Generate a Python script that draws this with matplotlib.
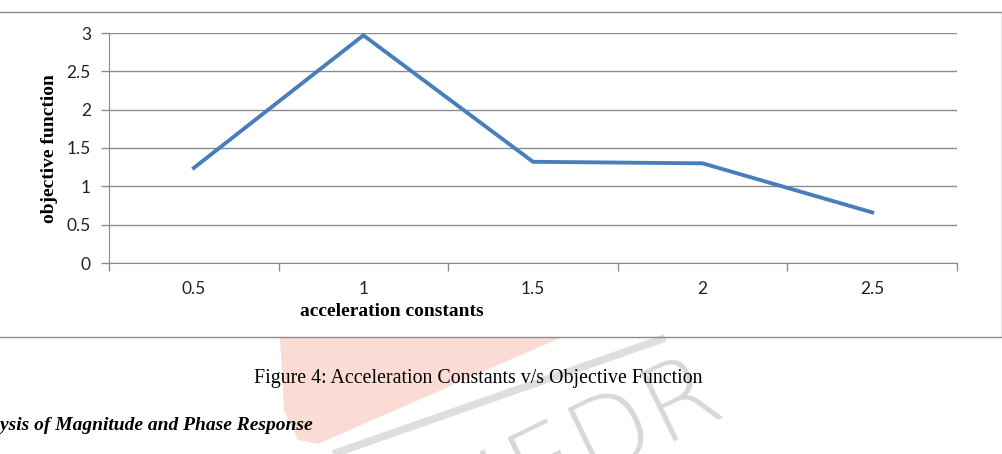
import matplotlib.pyplot as plt
import numpy as np

# data
categories = ['0.5', '1', '1.5', '2', '2.5']
objective = [1.24, 2.97, 1.32, 1.30, 0.66]
y_ticks = [0, 0.5, 1, 1.5, 2, 2.5, 3]
y_labels = ['0', '0.5', '1', '1.5', '2', '2.5', '3']

W, H = 1003, 454
fig = plt.figure(figsize=(W / 100, H / 100), dpi=100)

# background layer in pixel coordinates (page, border box, watermark)
bg = fig.add_axes([0, 0, 1, 1], zorder=0)
bg.set_xlim(0, W)
bg.set_ylim(H, 0)
bg.axis('off')

# faint watermark below the chart box
bg.add_patch(plt.Polygon([(280, 338), (560, 338), (318, 444), (298, 440), (284, 410)],
                         closed=True, color='#fbdcd4', lw=0, zorder=0))
bg.plot([333, 665], [454, 338], color='#dedede', lw=5.5, solid_capstyle='butt', zorder=0.5)
bg.text(588, 445, 'IJEDR', fontsize=76, color='#d8d8d8', rotation=26,
        ha='center', va='center', family='DejaVu Sans', fontweight='light', zorder=0.6)

# chart border (left side runs off the page)
bg.add_patch(plt.Rectangle((-5, 12), 1007, 325, fill=False, ec='#8c8c8c', lw=1.0, zorder=1))

# main plot
ax = fig.add_axes([109 / W, 1 - 263 / H, 848 / W, 230 / H], zorder=2)
ax.patch.set_alpha(0)
x = np.arange(len(categories))
ax.plot(x, objective, color='#4a7ebb', lw=2.8, solid_joinstyle='miter', zorder=3)

ax.set_xlim(-0.5, len(categories) - 0.5)
ax.set_ylim(0, 3)
ax.set_yticks(y_ticks)
ax.set_yticklabels(y_labels)
ax.yaxis.grid(True, color='#8c8c8c', lw=1.0)
ax.set_axisbelow(True)

# category axis: tick marks on boundaries, labels in the middle
ax.set_xticks(np.arange(-0.5, len(categories), 1.0))
ax.set_xticklabels([])
ax.set_xticks(x, minor=True)
ax.set_xticklabels(categories, minor=True)
ax.tick_params(axis='x', which='major', length=6, width=1, color='#8c8c8c', direction='out')
ax.tick_params(axis='x', which='minor', length=0, pad=13)
ax.tick_params(axis='y', length=6, width=1, color='#8c8c8c', pad=7)
for lab in ax.get_xticklabels(minor=True) + ax.get_yticklabels():
    lab.set_family('Lato')
    lab.set_fontsize(12.5)
    lab.set_color('#222222')

for side in ['top', 'right']:
    ax.spines[side].set_visible(False)
ax.spines['left'].set_color('#8c8c8c')
ax.spines['bottom'].set_color('#8c8c8c')

fig.text(392 / W, 1 - 312 / H, 'acceleration constants', ha='center', va='center',
         family='Liberation Serif', fontweight='bold', fontsize=14)
fig.text(50 / W, 1 - 149 / H, 'objective function', ha='center', va='center', rotation=90,
         family='Liberation Serif', fontweight='bold', fontsize=14)

# caption and section heading of the page
fig.text(478 / W, 1 - 378 / H, 'Figure 4: Acceleration Constants v/s Objective Function',
         ha='center', va='center', family='Liberation Serif', fontsize=14.3)
fig.text(313 / W, 1 - 425 / H, 'Analysis of Magnitude and Phase Response',
         ha='right', va='center', family='Liberation Serif', fontweight='bold',
         style='italic', fontsize=14)

fig.savefig('out.png', dpi=100)
